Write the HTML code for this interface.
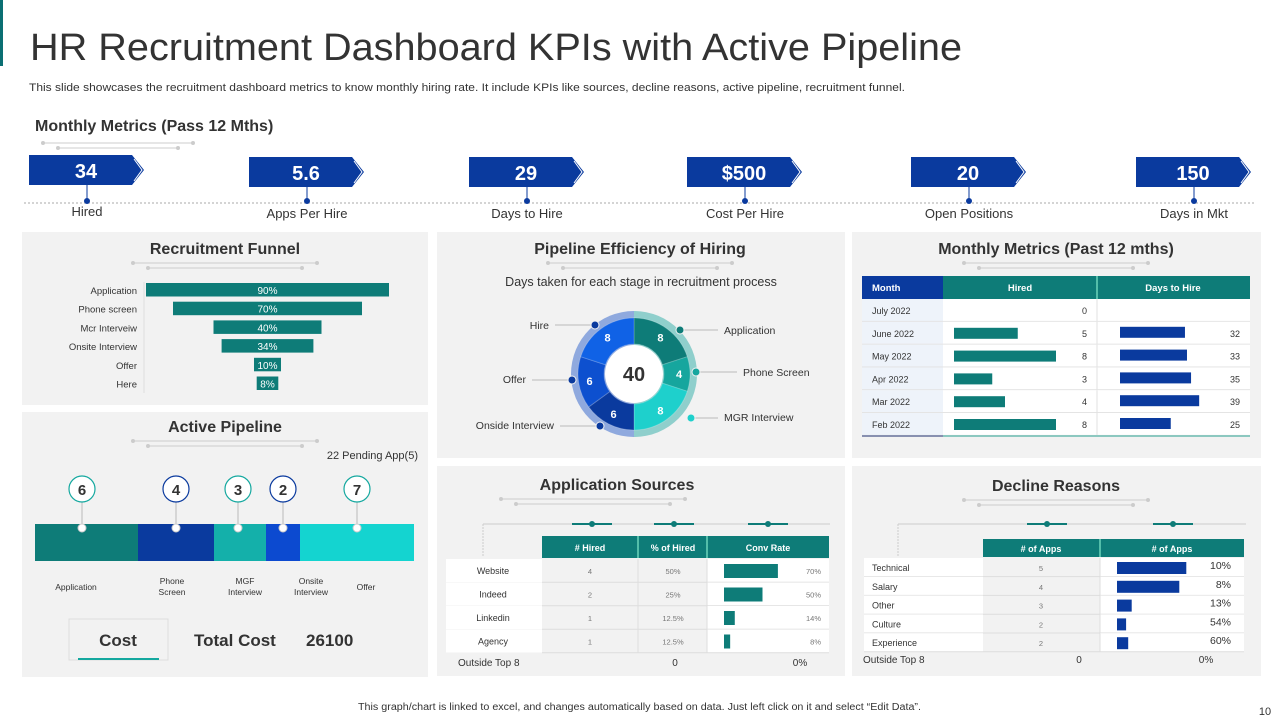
<!DOCTYPE html>
<html><head><meta charset="utf-8">
<style>
html,body{margin:0;padding:0;background:#fff;width:1280px;height:720px;overflow:hidden;font-family:"Liberation Sans",Arial,sans-serif}
svg{display:block}
text{font-family:"Liberation Sans",Arial,sans-serif}
</style></head>
<body>
<svg id="s" width="1280" height="720" viewBox="0 0 1280 720">
<rect x="0" y="0" width="3" height="66" fill="#0b6f73"/>
<text x="30" y="60" font-size="38" fill="#333" textLength="932" lengthAdjust="spacingAndGlyphs">HR Recruitment Dashboard KPIs with Active Pipeline</text>
<text x="29" y="91" font-size="11" fill="#333" textLength="876" lengthAdjust="spacingAndGlyphs">This slide showcases the recruitment dashboard metrics to know monthly hiring rate. It include KPIs like sources, decline reasons, active pipeline, recruitment funnel.</text>
<text x="35" y="131" font-size="16" font-weight="bold" fill="#333">Monthly Metrics (Pass 12 Mths)</text>
<line x1="24" y1="203" x2="1256" y2="203" stroke="#aaa" stroke-dasharray="2,2"/>
<rect x="22" y="232" width="406" height="173" fill="#f2f2f2"/>
<rect x="22" y="412" width="406" height="265" fill="#f2f2f2"/>
<rect x="437" y="232" width="408" height="226" fill="#f2f2f2"/>
<rect x="852" y="232" width="409" height="226" fill="#f2f2f2"/>
<rect x="437" y="466" width="408" height="210" fill="#f2f2f2"/>
<rect x="852" y="466" width="409" height="210" fill="#f2f2f2"/>
<text x="358" y="710" font-size="10" fill="#333" textLength="563" lengthAdjust="spacingAndGlyphs">This graph/chart is linked to excel, and changes automatically based on data. Just left click on it and select “Edit Data”.</text>
<text x="1265" y="715" font-size="11" fill="#333" text-anchor="middle">10</text>
<g id="g"></g>
</svg>
<script>
// KPI data
const kpiValues=["34","5.6","29","$500","20","150"];
const kpiLabels=["Hired","Apps Per Hire","Days to Hire","Cost Per Hire","Open Positions","Days in Mkt"];
// Funnel
const funnelStages=["Application","Phone screen","Mcr Interveiw","Onsite Interview","Offer","Here"];
const funnelValues=[90,70,40,34,10,8];
// Donut
const donutStages=["Application","Phone Screen","MGR Interview","Onside Interview","Offer","Hire"];
const donutDays=[8,4,8,6,6,8];
// Monthly
const months=["July 2022","June 2022","May 2022","Apr 2022","Mar 2022","Feb 2022"];
const monthHired=[0,5,8,3,4,8];
const monthDays=[null,32,33,35,39,25];
// Pipeline
const pipeStages=["Application","Phone\nScreen","MGF\nInterview","Onsite\nInterview","Offer"];
const pipeCounts=[6,4,3,2,7];
const pipeShares=[103,76,52,34,114];
// Sources
const sources=["Website","Indeed","Linkedin","Agency"];
const srcHired=[4,2,1,1];
const srcPct=["50%","25%","12.5%","12.5%"];
const srcConv=[70,50,14,8];
// Decline
const reasons=["Technical","Salary","Other","Culture","Experience"];
const reasonApps=[5,4,3,2,2];
const reasonBar=[9.9,8.9,2.1,1.3,1.6];
const reasonPct=["10%","8%","13%","54%","60%"];

const NS="http://www.w3.org/2000/svg";
const G=document.getElementById('g');
function mk(t,a,p){const e=document.createElementNS(NS,t);for(const k in a)e.setAttribute(k,a[k]);(p||G).appendChild(e);return e;}
function tx(x,y,s,a){const e=mk('text',Object.assign({x:x,y:y,fill:'#333','font-size':11},a||{}));e.textContent=s;return e;}
function deco(cx,y,w){
  const g=mk('g',{});
  
  
  mk('line',{x1:cx-w/2,y1:y,x2:cx+w/2,y2:y,stroke:'#ccc'},g);
  mk('line',{x1:cx-w/2+15,y1:y+5,x2:cx+w/2-15,y2:y+5,stroke:'#ccc'},g);
  [[cx-w/2,y],[cx+w/2,y],[cx-w/2+15,y+5],[cx+w/2-15,y+5]].forEach(p=>mk('circle',{cx:p[0],cy:p[1],r:2,fill:'#ccc'},g));
}
deco(118,143,150);

// KPIs
const kpiX=[29,249,469,687,911,1136];
kpiValues.forEach((v,i)=>{
  const x=kpiX[i],g=mk('g',{});
  
  
  const y=i==0?155:157;
  mk('polygon',{points:`${x},${y} ${x+103},${y} ${x+115},${y+15} ${x+103},${y+30} ${x},${y+30}`,fill:'#0a3a9e'},g);
  mk('polyline',{points:`${x+105},${y+4} ${x+113},${y+15} ${x+105},${y+26}`,fill:'none',stroke:'#fff','stroke-width':1},g);
  const t=tx(x+57,y+23,v,{fill:'#fff','font-size':20,'font-weight':'bold','text-anchor':'middle'});g.appendChild(t);
  mk('line',{x1:x+58,y1:y+30,x2:x+58,y2:201,stroke:'#0a3a9e'},g);
  mk('circle',{cx:x+58,cy:201,r:3,fill:'#0a3a9e'},g);
  const l=tx(x+58,i==0?216:218,kpiLabels[i],{'font-size':13,'text-anchor':'middle'});g.appendChild(l);
});

// Panel titles
[["Recruitment Funnel",225,254],["Active Pipeline",225,432],["Pipeline Efficiency of Hiring",640,254],["Monthly Metrics (Past 12 mths)",1056,254],["Application Sources",617,490],["Decline Reasons",1056,491]].forEach(d=>{
  const t=tx(d[1],d[2],d[0],{'font-size':16,'font-weight':'bold','text-anchor':'middle'});
  
  
  deco(d[1]-(d[0]=="Application Sources"?24:0),d[2]+9,184);
});

// Funnel
const fx=c=>c*2.7;
mk('line',{x1:144,y1:282,x2:144,y2:393,stroke:'#ddd'});
funnelStages.forEach((s,i)=>{
  const y=290+i*18.7,w=fx(funnelValues[i]);
  const r=mk('rect',{x:267.5-w/2,y:y-7,width:w,height:13.5,fill:'#0e7c78'});
  
  
  tx(137,y+4,s,{'font-size':9.5,'text-anchor':'end'});
  tx(267.5,y+4,funnelValues[i]+'%',{'font-size':10,fill:'#fff','text-anchor':'middle'});
});

// Donut
tx(641,286,"Days taken for each stage in recruitment  process",{'font-size':12.5,'text-anchor':'middle'});
const cx=634,cy=374;
const dcol=['#0e7c78','#16a69e','#1ed0cc','#0a3a9e','#0d50cf','#1062e6'];
const total=donutDays.reduce((a,b)=>a+b,0);
function pt(r,a){return [cx+r*Math.sin(a),cy-r*Math.cos(a)];}
mk('path',{d:`M${cx},${cy-63} A63,63 0 0 1 ${cx},${cy+63} Z`,fill:'#8fcfcc'});
mk('path',{d:`M${cx},${cy+63} A63,63 0 0 1 ${cx},${cy-63} Z`,fill:'#8fa9de'});
let acc=0;
const lbl=[[680,330,724,334,'start'],[696,372,743,376,'start'],[691,418,724,421,'start'],[600,426,554,429,'end'],[572,380,526,383,'end'],[595,325,549,329,'end']];
donutDays.forEach((v,i)=>{
  const a0=acc/total*2*Math.PI;acc+=v;const a1=acc/total*2*Math.PI;
  const p0=pt(56,a0),p1=pt(56,a1),q1=pt(30,a1),q0=pt(30,a0);
  const large=(a1-a0)>Math.PI?1:0;
  const p=mk('path',{d:`M${p0[0]},${p0[1]} A56,56 0 ${large} 1 ${p1[0]},${p1[1]} L${q1[0]},${q1[1]} A30,30 0 ${large} 0 ${q0[0]},${q0[1]} Z`,fill:dcol[i],stroke:'#ffffff30'});
  
  
  const m=pt(45,(a0+a1)/2);
  tx(m[0],m[1]+4,v,{'font-size':11,'font-weight':'bold',fill:'#fff','text-anchor':'middle'});
  const L=lbl[i];
  mk('line',{x1:L[0],y1:L[1],x2:L[4]=='start'?L[2]-6:L[2]+6,y2:L[1],stroke:'#bbb'});
  mk('circle',{cx:L[0],cy:L[1],r:4,fill:i<3?dcol[i]:'#0a3a9e',stroke:'#f2f2f2','stroke-width':1});
  tx(L[2],L[3],donutStages[i],{'font-size':10.5,'text-anchor':L[4]});
});
mk('circle',{cx:cx,cy:cy,r:29,fill:'#fff'});
tx(cx,cy+7,total,{'font-size':20,'font-weight':'bold','text-anchor':'middle'});

// Monthly table
mk('rect',{x:862,y:276,width:81,height:23,fill:'#0a3a9e'});
mk('rect',{x:943,y:276,width:307,height:23,fill:'#0e7c78'});
mk('line',{x1:1097,y1:276,x2:1097,y2:299,stroke:'#9fd'});
tx(872,291,"Month",{'font-size':9.5,'font-weight':'bold',fill:'#fff'});
tx(1020,291,"Hired",{'font-size':9.5,'font-weight':'bold',fill:'#fff','text-anchor':'middle'});
tx(1173,291,"Days to Hire",{'font-size':9.5,'font-weight':'bold',fill:'#fff','text-anchor':'middle'});
const hx=v=>v*12.75, dx=v=>v*2.03;
months.forEach((m,i)=>{
  const y=299+i*22.8;
  mk('rect',{x:862,y:y,width:81,height:22,fill:'#eef3fa'});
  mk('rect',{x:943,y:y,width:307,height:22,fill:'#fff'});
  mk('line',{x1:862,y1:y+22.4,x2:1250,y2:y+22.4,stroke:'#e2e2e2'});
  mk('line',{x1:1097,y1:y,x2:1097,y2:y+22.8,stroke:'#e2e2e2'});
  tx(872,y+15,m,{'font-size':9});
  if(monthHired[i]>0){const r=mk('rect',{x:954,y:y+6,width:hx(monthHired[i]),height:11,fill:'#0e7c78'});
    
    }
  tx(1087,y+15,monthHired[i],{'font-size':9,'text-anchor':'end'});
  if(monthDays[i]!=null){const r=mk('rect',{x:1120,y:y+5,width:dx(monthDays[i]),height:11,fill:'#0a3a9e'});
    
    
    tx(1240,y+15,monthDays[i],{'font-size':9,'text-anchor':'end'});}
});
mk('line',{x1:862,y1:436,x2:943,y2:436,stroke:'#8890b0','stroke-width':2});
mk('line',{x1:943,y1:436,x2:1250,y2:436,stroke:'#8cc8c0','stroke-width':2});

// Active pipeline
tx(418,459,"22 Pending App(5)",{'font-size':11,'text-anchor':'end'});
let px=35;
const pcol=['#0e7c78','#0a3a9e','#14b0aa','#0c4ad0','#14d4d0'];
const dotX=[82,176,238,283,357];
pipeShares.forEach((w,i)=>{
  const r=mk('rect',{x:px,y:524,width:w,height:37,fill:pcol[i]});
  
  
  px+=w;
  const x=dotX[i];
  mk('line',{x1:x,y1:502,x2:x,y2:528,stroke:'#bbb'});
  mk('circle',{cx:x,cy:489,r:13,fill:'#fff',stroke:i%2?'#0a3a9e':'#14a89f','stroke-width':1.2});
  tx(x,495,pipeCounts[i],{'font-size':15,'font-weight':'bold','text-anchor':'middle'});
  mk('circle',{cx:x,cy:528,r:4,fill:'#fff',stroke:'#ccc'});
  const parts=pipeStages[i].split('\n');
  const lx=[76,172,245,311,366][i];
  parts.forEach((p,j)=>tx(lx,parts.length>1?584+j*11:590,p,{'font-size':8.5,'text-anchor':'middle'}));
});
const cb=mk('rect',{x:69,y:619,width:99,height:41,fill:'#f2f2f2',stroke:'#ddd'});


mk('line',{x1:78,y1:659,x2:159,y2:659,stroke:'#14a89f','stroke-width':2});
tx(118,646,"Cost",{'font-size':17,'font-weight':'bold','text-anchor':'middle'});
tx(194,646,"Total Cost",{'font-size':17,'font-weight':'bold'});
tx(306,646,"26100",{'font-size':17,'font-weight':'bold'});

// Table helper decorations
function tableDeco(x0,x1,hx){
  mk('line',{x1:x0,y1:524,x2:x1,y2:524,stroke:'#ccc'});
  mk('line',{x1:x0,y1:524,x2:x0,y2:556,stroke:'#ccc','stroke-dasharray':'2,1'});
  hx.forEach(x=>{mk('line',{x1:x-20,y1:524,x2:x+20,y2:524,stroke:'#0e7c78','stroke-width':2});mk('circle',{cx:x,cy:524,r:3,fill:'#0e7c78'});});
}
// Sources
tableDeco(483,830,[592,674,768]);
mk('rect',{x:542,y:536,width:287,height:22,fill:'#0e7c78'});
mk('line',{x1:638,y1:536,x2:638,y2:558,stroke:'#9fd'});mk('line',{x1:707,y1:536,x2:707,y2:558,stroke:'#9fd'});
tx(590,551,"# Hired",{'font-size':9,'font-weight':'bold',fill:'#fff','text-anchor':'middle'});
tx(673,551,"% of Hired",{'font-size':9,'font-weight':'bold',fill:'#fff','text-anchor':'middle'});
tx(768,551,"Conv Rate",{'font-size':9,'font-weight':'bold',fill:'#fff','text-anchor':'middle'});
const cvx=v=>v*0.77;
sources.forEach((s,i)=>{
  const y=559+i*23.5;
  mk('rect',{x:446,y:y,width:96,height:23,fill:'#fff'});
  mk('rect',{x:707,y:y,width:122,height:23,fill:'#fff'});
  mk('line',{x1:542,y1:y+23.3,x2:829,y2:y+23.3,stroke:'#ddd'});
  mk('line',{x1:638,y1:y,x2:638,y2:y+23.5,stroke:'#ddd'});mk('line',{x1:707,y1:y,x2:707,y2:y+23.5,stroke:'#ddd'});
  tx(493,y+15,s,{'font-size':9,'text-anchor':'middle'});
  tx(590,y+15,srcHired[i],{'font-size':7.5,fill:'#777','text-anchor':'middle'});
  tx(673,y+15,srcPct[i],{'font-size':7.5,fill:'#777','text-anchor':'middle'});
  const r=mk('rect',{x:724,y:y+5,width:cvx(srcConv[i]),height:14,fill:'#0e7c78'});
  
  
  tx(821,y+15,srcConv[i]+'%',{'font-size':7.5,fill:'#777','text-anchor':'end'});
});
tx(458,666,"Outside Top 8",{'font-size':10});
tx(675,666,"0",{'font-size':10,'text-anchor':'middle'});
tx(800,666,"0%",{'font-size':10,'text-anchor':'middle'});

// Decline
tableDeco(898,1246,[1047,1173]);
mk('rect',{x:983,y:539,width:261,height:18,fill:'#0e7c78'});
mk('line',{x1:1100,y1:539,x2:1100,y2:557,stroke:'#9fd'});
tx(1041,552,"# of Apps",{'font-size':9,'font-weight':'bold',fill:'#fff','text-anchor':'middle'});
tx(1172,552,"# of Apps",{'font-size':9,'font-weight':'bold',fill:'#fff','text-anchor':'middle'});
const bx=v=>v*7;
reasons.forEach((s,i)=>{
  const y=558+i*18.8;
  mk('rect',{x:864,y:y,width:119,height:18.6,fill:'#fff'});
  mk('rect',{x:1100,y:y,width:144,height:18.6,fill:'#fff'});
  mk('line',{x1:864,y1:y+18.6,x2:1244,y2:y+18.6,stroke:'#ddd'});
  mk('line',{x1:1100,y1:y,x2:1100,y2:y+18.8,stroke:'#ddd'});
  tx(872,y+13,s,{'font-size':9});
  tx(1041,y+13,reasonApps[i],{'font-size':7.5,fill:'#777','text-anchor':'middle'});
  const r=mk('rect',{x:1117,y:y+4,width:bx(reasonBar[i]),height:12,fill:'#0a3a9e'});
  
  
  tx(1231,y+11,reasonPct[i],{'font-size':10.5,'text-anchor':'end'});
});
tx(863,663,"Outside Top 8",{'font-size':10});
tx(1079,663,"0",{'font-size':10,'text-anchor':'middle'});
tx(1206,663,"0%",{'font-size':10,'text-anchor':'middle'});
</script>
</body></html>
